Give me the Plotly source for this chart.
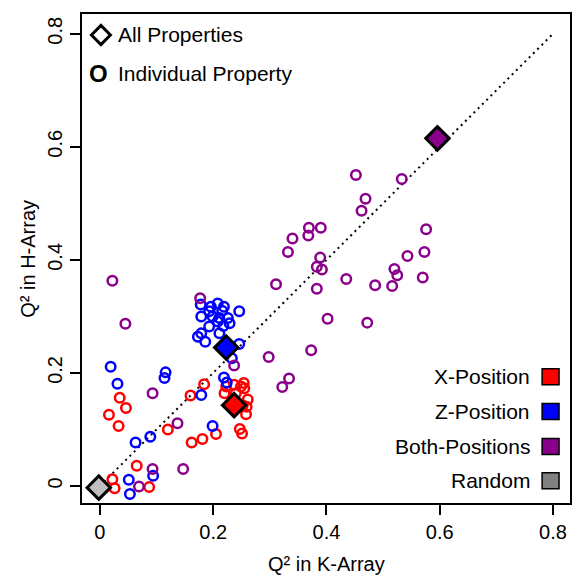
import plotly.graph_objects as go

# ---------------- data ----------------
x_pos_k = [0.035, 0.046, 0.016, 0.033, 0.120, 0.184, 0.160, 0.162, 0.181, 0.205,
           0.065, 0.022, 0.026, 0.087, 0.247, 0.251, 0.258, 0.254, 0.249, 0.255,
           0.223, 0.237, 0.220, 0.240, 0.261, 0.252, 0.259]
x_pos_h = [0.156, 0.138, 0.126, 0.106, 0.100, 0.180, 0.160, 0.077, 0.083, 0.092,
           0.036, 0.012, -0.004, -0.002, 0.101, 0.093, 0.127, 0.182, 0.176, 0.173,
           0.176, 0.179, 0.164, 0.164, 0.153, 0.143, 0.140]

z_pos_k = [0.019, 0.031, 0.116, 0.114, 0.179, 0.219, 0.224, 0.199, 0.089, 0.063,
           0.094, 0.051, 0.053, 0.186, 0.246, 0.233, 0.178, 0.196, 0.208, 0.219,
           0.193, 0.216, 0.246, 0.179, 0.199, 0.211, 0.226, 0.208, 0.229, 0.193,
           0.218, 0.179, 0.173, 0.211]
z_pos_h = [0.211, 0.181, 0.201, 0.191, 0.161, 0.192, 0.183, 0.106, 0.087, 0.077,
           0.018, 0.011, -0.014, 0.255, 0.251, 0.226, 0.321, 0.317, 0.323, 0.317,
           0.309, 0.310, 0.309, 0.300, 0.300, 0.297, 0.297, 0.291, 0.288, 0.282,
           0.283, 0.270, 0.264, 0.270]

both_k = [0.452, 0.533, 0.469, 0.462, 0.369, 0.390, 0.368, 0.340, 0.576, 0.332,
          0.573, 0.543, 0.389, 0.383, 0.392, 0.520, 0.525, 0.570, 0.435, 0.486,
          0.516, 0.311, 0.383, 0.402, 0.472, 0.373, 0.298, 0.334, 0.322, 0.022,
          0.045, 0.177, 0.237, 0.093, 0.137, 0.093, 0.147, 0.069]
both_h = [0.550, 0.543, 0.508, 0.487, 0.457, 0.457, 0.443, 0.438, 0.454, 0.414,
          0.414, 0.407, 0.404, 0.388, 0.383, 0.384, 0.373, 0.369, 0.366, 0.355,
          0.354, 0.357, 0.349, 0.296, 0.289, 0.240, 0.228, 0.190, 0.175, 0.363,
          0.287, 0.332, 0.213, 0.164, 0.111, 0.030, 0.030, -0.001]

all_names = ["X-Position", "Z-Position", "Both-Positions", "Random"]
all_k = [0.237, 0.223, 0.596, -0.002]
all_h = [0.143, 0.245, 0.615, -0.003]

diag = [0.0, 0.8]
ticks = [0, 0.2, 0.4, 0.6, 0.8]
tick_text = ["0", "0.2", "0.4", "0.6", "0.8"]

RED, BLUE, PURPLE = "#FF0000", "#0000FF", "#8B008B"
DIAMOND_FILL = [RED, BLUE, PURPLE, "#BEBEBE"]
LEGEND_FILL = [RED, BLUE, PURPLE, "#808080"]
FONT = "Liberation Sans, Arial, sans-serif"

fig = go.Figure()

# diagonal dotted line
fig.add_trace(go.Scatter(x=diag, y=diag, mode="lines",
                         line=dict(color="black", width=2, dash="2px,4px"),
                         hoverinfo="skip"))

for xs, ys, col in [(x_pos_k, x_pos_h, RED), (z_pos_k, z_pos_h, BLUE), (both_k, both_h, PURPLE)]:
    fig.add_trace(go.Scatter(x=xs, y=ys, mode="markers",
                             marker=dict(symbol="circle-open", size=9.5, color=col,
                                         line=dict(width=2.5, color=col))))

fig.add_trace(go.Scatter(x=all_k, y=all_h, mode="markers", text=all_names,
                         marker=dict(symbol="diamond", size=18, color=DIAMOND_FILL,
                                     line=dict(width=3, color="black"))))

# ---------------- layout helpers (pixel -> paper) ----------------
L, R, T, B = 82, 572, 14, 503
W, H = R - L, B - T
def px(x):
    return (x - L) / W
def py(y):
    return (B - y) / H

shapes = []
annotations = []

# top-left legend: open diamond + bold O
cx, cy, hw = 101, 35, 9.5
path = "M {} {} L {} {} L {} {} L {} {} Z".format(
    px(cx - hw), py(cy), px(cx), py(cy - hw), px(cx + hw), py(cy), px(cx), py(cy + hw))
shapes.append(dict(type="path", path=path, xref="paper", yref="paper",
                   line=dict(color="black", width=3), fillcolor="white"))
annotations.append(dict(text="All Properties", x=px(116), y=py(35), xref="paper", yref="paper",
                        xanchor="left", yanchor="middle", showarrow=False,
                        font=dict(family=FONT, size=21, color="black")))
annotations.append(dict(text="<b>O</b>", x=px(99), y=py(74), xref="paper", yref="paper",
                        xanchor="center", yanchor="middle", showarrow=False,
                        font=dict(family=FONT, size=24, color="black")))
annotations.append(dict(text="Individual Property", x=px(116), y=py(74), xref="paper", yref="paper",
                        xanchor="left", yanchor="middle", showarrow=False,
                        font=dict(family=FONT, size=21, color="black")))

# bottom-right legend
rows_y = [376.7, 411.5, 446.5, 480.7]
for name, fill, ry in zip(all_names, LEGEND_FILL, rows_y):
    annotations.append(dict(text=name, x=px(534), y=py(ry), xref="paper", yref="paper",
                            xanchor="right", yanchor="middle", showarrow=False,
                            font=dict(family=FONT, size=21, color="black")))
    shapes.append(dict(type="rect", xref="paper", yref="paper",
                       x0=px(544), x1=px(561), y0=py(ry + 8), y1=py(ry - 8),
                       fillcolor=fill, line=dict(color="black", width=1.5)))

# axis titles
annotations.append(dict(text="Q² in K-Array", x=0.5, y=py(564), xref="paper", yref="paper",
                        xanchor="center", yanchor="middle", showarrow=False,
                        font=dict(family=FONT, size=20, color="black")))
annotations.append(dict(text="Q² in H-Array", x=px(27), y=0.5, xref="paper", yref="paper",
                        xanchor="center", yanchor="middle", showarrow=False, textangle=-90,
                        font=dict(family=FONT, size=20, color="black")))

axis_common = dict(showgrid=False, zeroline=False, showline=True, mirror=True,
                   linecolor="black", linewidth=2, ticks="outside", ticklen=10,
                   tickwidth=2, tickcolor="black", tickvals=ticks, ticktext=tick_text,
                   tickfont=dict(family=FONT, size=20, color="black"))

fig.update_layout(
    width=574, height=575,
    margin=dict(l=L, r=574 - R, t=T, b=575 - B, pad=0),
    paper_bgcolor="white", plot_bgcolor="white",
    showlegend=False,
    xaxis=dict(range=[-0.0316, 0.830], **axis_common),
    yaxis=dict(range=[-0.0301, 0.835], tickangle=-90, **axis_common),
    shapes=shapes, annotations=annotations,
)

fig.write_html("out.html")
